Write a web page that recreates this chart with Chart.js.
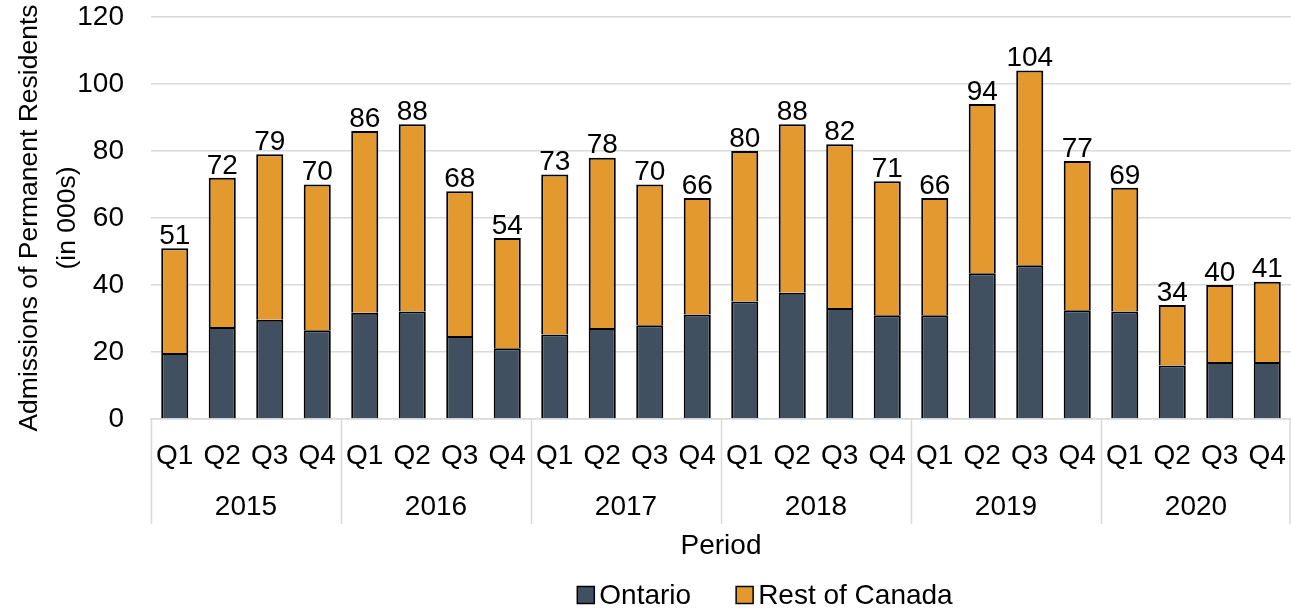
<!DOCTYPE html>
<html>
<head>
<meta charset="utf-8">
<script src="https://cdn.jsdelivr.net/npm/chart.js@4/dist/chart.umd.min.js"></script>
<style>
  html, body { margin: 0; padding: 0; background: #fff; }
  #wrap { width: 1291px; height: 608px; }
</style>
</head>
<body>
<div id="wrap"><canvas id="c" width="1291" height="608"></canvas></div>
<script>
// quarters and years (two-level x axis)
const quarters = ['Q1', 'Q2', 'Q3', 'Q4'];
const years = ['2015', '2016', '2017', '2018', '2019', '2020'];

// admissions in 000s
const ontario = [19.7, 27.5, 29.6, 26.5, 31.7, 32.1, 24.8, 21.1,
                 25.2, 27.2, 28.0, 31.2, 35.1, 37.7, 33.1, 31.0,
                 31.0, 43.5, 45.9, 32.5, 32.1, 16.0, 17.0, 17.0];
const restOfCanada = [31.3, 44.5, 49.4, 43.5, 54.3, 55.9, 43.2, 32.9,
                      47.8, 50.8, 42.0, 34.8, 44.9, 50.3, 48.9, 40.0,
                      35.0, 50.5, 58.1, 44.5, 36.9, 18.0, 23.0, 24.0];

const yTicks = [0, 20, 40, 60, 80, 100, 120];

const labels = [];
years.forEach(y => quarters.forEach(q => labels.push(q)));

const FONT = 'Liberation Sans, Arial, sans-serif';
const FS = 28;

// totals on top of each stacked bar
const totalsPlugin = {
  id: 'totals',
  afterDatasetsDraw(chart) {
    const ctx = chart.ctx;
    const top = chart.getDatasetMeta(1).data;
    ctx.save();
    ctx.font = FS + 'px ' + FONT;
    ctx.fillStyle = '#000';
    ctx.textAlign = 'center';
    ctx.textBaseline = 'bottom';
    top.forEach((bar, i) => {
      const total = Math.round(ontario[i] + restOfCanada[i]);
      ctx.fillText(String(total), bar.x, bar.y + 2);
    });
    ctx.restore();
  }
};

// year row and group separators under the x axis
const yearGroups = {
  id: 'yearGroups',
  afterDraw(chart) {
    const ctx = chart.ctx;
    const area = chart.chartArea;
    const n = labels.length;
    const step = (area.right - area.left) / n;
    ctx.save();
    ctx.strokeStyle = '#d9d9d9';
    ctx.lineWidth = 1.5;
    for (let g = 0; g <= years.length; g++) {
      const x = Math.min(Math.round(area.left + g * 4 * step) + 0.5, chart.width - 1);
      ctx.beginPath();
      ctx.moveTo(x, area.bottom);
      ctx.lineTo(x, area.bottom + 105);
      ctx.stroke();
    }
    ctx.font = FS + 'px ' + FONT;
    ctx.fillStyle = '#000';
    ctx.textAlign = 'center';
    ctx.textBaseline = 'middle';
    years.forEach((y, g) => {
      const cx = area.left + (g * 4 + 2) * step;
      ctx.fillText(y, cx, area.bottom + 88);
    });
    ctx.restore();
  }
};

// legend drawn by hand to get the wide spacing between the two items
const legendPlugin = {
  id: 'customLegend',
  afterDraw(chart) {
    const ctx = chart.ctx;
    const ds = chart.data.datasets;
    const box = 17, gapText = 5, gapItem = 45;
    ctx.save();
    ctx.font = FS + 'px ' + FONT;
    const widths = ds.map(d => box + gapText + ctx.measureText(d.label).width);
    const total = widths.reduce((a, b) => a + b, 0) + gapItem * (ds.length - 1);
    let x = 765 - total / 2;
    const cy = 595;
    ds.forEach((d, i) => {
      ctx.fillStyle = d.backgroundColor;
      ctx.fillRect(x, cy - box / 2, box, box);
      ctx.strokeStyle = '#000';
      ctx.lineWidth = 1.5;
      ctx.strokeRect(x, cy - box / 2, box, box);
      ctx.fillStyle = '#000';
      ctx.textAlign = 'left';
      ctx.textBaseline = 'middle';
      ctx.fillText(d.label, x + box + gapText, cy + 1);
      x += widths[i] + gapItem;
    });
    ctx.restore();
  }
};

new Chart(document.getElementById('c'), {
  type: 'bar',
  data: {
    labels: labels,
    datasets: [
      {
        label: 'Ontario',
        data: ontario,
        backgroundColor: '#415060',
        borderColor: '#000',
        borderWidth: 2,
        barPercentage: 0.57,
        categoryPercentage: 1.0
      },
      {
        label: 'Rest of Canada',
        data: restOfCanada,
        backgroundColor: '#e4992f',
        borderColor: '#000',
        borderWidth: 2,
        barPercentage: 0.57,
        categoryPercentage: 1.0
      }
    ]
  },
  options: {
    responsive: false,
    animation: false,
    layout: { padding: { top: 17, right: 0, left: 0, bottom: 43 } },
    plugins: {
      legend: { display: false },
      tooltip: { enabled: false }
    },
    scales: {
      x: {
        stacked: true,
        afterFit(axis) {
          axis.height = 146;
          axis.paddingLeft = 0;
          axis.paddingRight = 0;
        },
        grid: { display: false },
        border: { display: true, color: '#d9d9d9', width: 1.5 },
        ticks: {
          font: { size: FS, family: FONT },
          color: '#000',
          maxRotation: 0,
          autoSkip: false,
          padding: 12
        },
        title: {
          display: true,
          text: 'Period',
          font: { size: FS, family: FONT },
          color: '#000',
          padding: { top: 0, bottom: 2 }
        }
      },
      y: {
        stacked: true,
        min: 0,
        max: 120,
        afterBuildTicks(axis) { axis.ticks = yTicks.map(v => ({ value: v })); },
        afterFit(axis) {
          axis.width = 151;
          axis.paddingTop = 0;
          axis.paddingBottom = 0;
        },
        grid: { color: '#d9d9d9', lineWidth: 1.5, drawTicks: false },
        border: { display: false },
        ticks: {
          font: { size: FS, family: FONT },
          color: '#000',
          padding: 27
        },
        title: {
          display: true,
          text: ['Admissions of Permanent Residents', '(in 000s)'],
          font: { size: 26.5, family: FONT, lineHeight: 1.43 },
          color: '#000',
          padding: { top: 11, bottom: 0 }
        }
      }
    }
  },
  plugins: [totalsPlugin, yearGroups, legendPlugin]
});
</script>
</body>
</html>
